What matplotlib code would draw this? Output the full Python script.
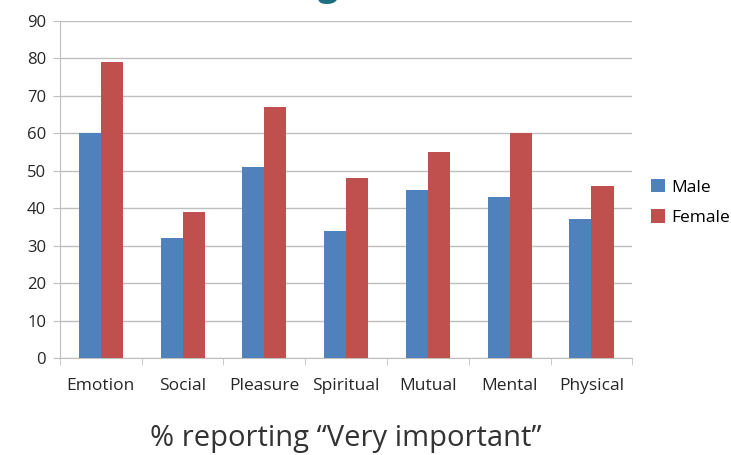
import matplotlib
matplotlib.use("Agg")
import matplotlib.pyplot as plt
import numpy as np

categories = ["Emotion", "Social", "Pleasure", "Spiritual", "Mutual", "Mental", "Physical"]
male = [60, 32, 51, 34, 45, 43, 37]
female = [79, 39, 67, 48, 55, 60, 46]
y_ticks = list(range(0, 100, 10))

plt.rcParams["font.family"] = ["Open Sans", "DejaVu Sans"]

fig = plt.figure(figsize=(7.31, 4.55), dpi=100)
ax = fig.add_axes([0.082, 0.213, 0.783, 0.741])

x = np.arange(len(categories))
w = 0.27
ax.bar(x - w / 2, male, w, color="#4F81BD", label="Male", zorder=3)
ax.bar(x + w / 2, female, w, color="#C0504D", label="Female", zorder=3)

ax.set_xlim(-0.5, len(categories) - 0.5)
ax.set_ylim(0, 90)
ax.set_yticks(y_ticks)
ax.yaxis.grid(True, color="#BFBFBF", linewidth=1, zorder=0)
ax.set_axisbelow(True)

for s in ["top", "right"]:
    ax.spines[s].set_visible(False)
for s in ["left", "bottom"]:
    ax.spines[s].set_color("#BFBFBF")

ax.set_xticks(x)
ax.set_xticklabels(categories, fontsize=12.5, color="#262626")
ax.tick_params(axis="x", length=0, pad=14)
ax.set_xticks(np.arange(-0.5, len(categories)), minor=True)
ax.tick_params(axis="x", which="minor", length=5, color="#BFBFBF")
ax.tick_params(axis="y", length=5, color="#BFBFBF", labelsize=12, labelcolor="#262626", pad=5)

ax.set_xlabel("% reporting \u201cVery important\u201d", fontsize=21, color="#333333", labelpad=22)

fig.legend(loc="center left", bbox_to_anchor=(0.891, 0.555), frameon=False,
           fontsize=12.5, handlelength=0.8, handleheight=0.8, handletextpad=0.35,
           labelspacing=0.8, borderpad=0, borderaxespad=0)

fig.text(0.449, 1.03, "g", fontsize=26, fontweight="bold", color="#1B6F80",
         ha="center", va="center")

fig.savefig("out.png", dpi=100)
